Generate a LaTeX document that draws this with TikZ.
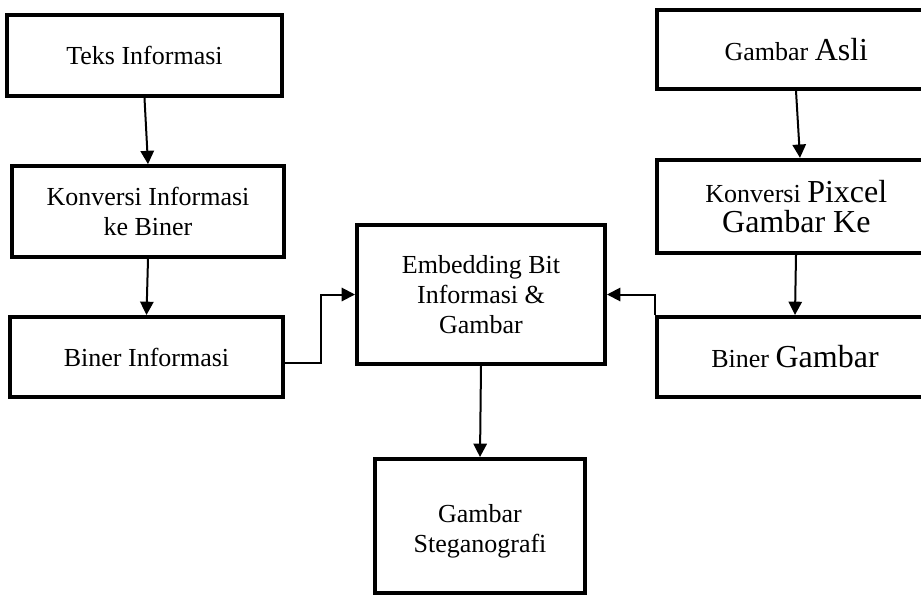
\documentclass[tikz,border=0pt]{standalone}
\usepackage{fontspec}
\setmainfont{Liberation Serif}
\usepackage{tikz}
\usetikzlibrary{arrows.meta,positioning,calc}
\newcommand{\besar}[1]{{\fontsize{24}{22.5}\selectfont #1}}

\begin{document}
\begin{tikzpicture}[x=0.75pt, y=-0.75pt,
  blok/.style={draw=black, line width=3pt, fill=white, inner sep=2pt,
    align=center, font=\fontsize{19.5}{22.5}\selectfont},
  panah/.style={-{Triangle[length=10pt,width=10pt]}, line width=1.5pt}]

\useasboundingbox (0,0) rectangle (921,597);
\clip (0,0) rectangle (921,597);

% kolom kiri
\node[blok, minimum width=206pt, minimum height=61pt] (teks) at (144.5,55.5) {Teks Informasi};
\node[blok, minimum width=204pt, minimum height=68pt] (konv) at (148,211.5) {Konversi Informasi\\ke Biner};
\node[blok, minimum width=205pt, minimum height=60pt] (binf) at (146.5,357) {Biner Informasi};

% kolom kanan (sisi kanan terpotong)
\node[blok, minimum width=222pt, minimum height=59pt] (asli) at (805,49.5) {\hspace*{-13pt}Gambar \besar{Asli}};
\node[blok, minimum width=222pt, minimum height=70pt] (pix) at (805,206.5) {\hspace*{-13pt}Konversi \besar{Pixcel}\\\hspace*{-13pt}\besar{Gambar Ke}};
\node[blok, minimum width=222pt, minimum height=60pt] (bgam) at (805,357) {\hspace*{-15pt}Biner \besar{Gambar}};

% tengah
\node[blok, minimum width=186pt, minimum height=104pt] (emb) at (481,294.5) {Embedding Bit\\Informasi \&\\Gambar};
\node[blok, minimum width=157.5pt, minimum height=100.5pt] (steg) at (480,526) {\rule{0pt}{21pt}Gambar\\Steganografi};

\draw[panah] (teks.south) -- (konv.north);
\draw[panah] (konv.south) -- (binf.north);
\draw[panah] ($(asli.south)+(-9,0)$) -- ($(pix.north)+(-5,0)$);
\draw[panah] ($(pix.south)+(-9,0)$) -- ($(bgam.north)+(-10,0)$);

\draw[panah] ($(binf.east)+(0,6)$) -- ++(27pt,0) |- (emb.west);
\draw[panah] (bgam.north west) |- (emb.east);
\draw[panah] (emb.south) -- (steg.north);

\end{tikzpicture}
\end{document}
